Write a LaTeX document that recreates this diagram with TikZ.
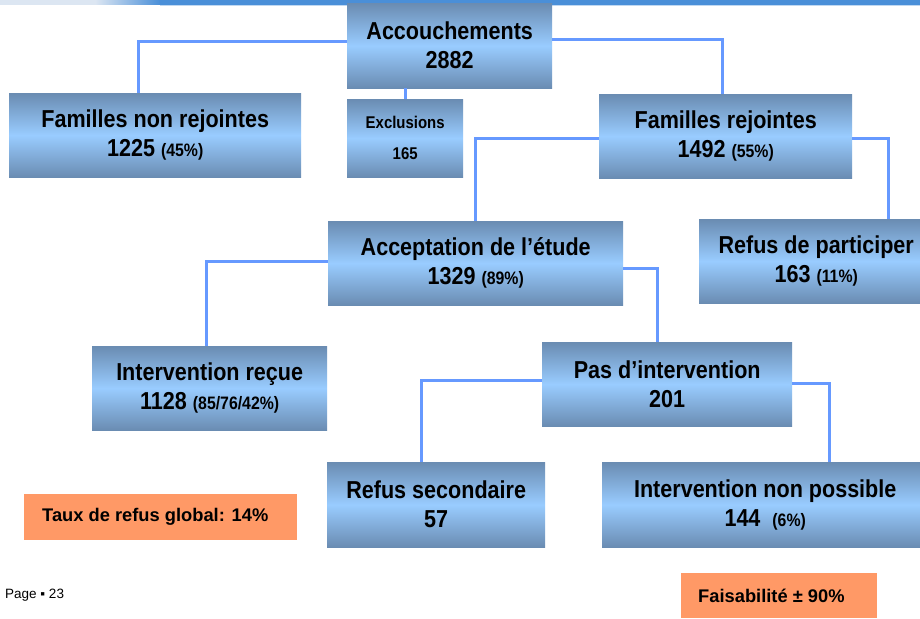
\documentclass[tikz,border=0pt]{standalone}
\usepackage{fontspec}
\setmainfont{Liberation Sans}
\newfontfamily\condfont[FakeStretch=0.88]{Liberation Sans}
\definecolor{boxedge}{RGB}{106,140,178}
\definecolor{boxmid}{RGB}{153,204,255}
\definecolor{connblue}{RGB}{102,153,255}
\definecolor{orangebox}{RGB}{255,153,102}
\definecolor{barblue}{RGB}{74,143,216}
\definecolor{barpale}{RGB}{220,230,242}
\newcommand\smallpct[1]{{\fontsize{18}{29}\selectfont #1}}
\tikzset{
  flowbox/.style={rectangle, draw=none, inner sep=0pt, anchor=north west,
    top color=boxedge, bottom color=boxedge, middle color=boxmid,
    align=center, text=black,
    font=\condfont\bfseries\fontsize{24.5}{29}\selectfont},
  conn/.style={draw=connblue, line width=3pt},
  notebox/.style={rectangle, fill=orangebox, draw=none, anchor=north west, inner sep=0pt},
  notetext/.style={anchor=west, inner sep=0pt, font=\bfseries\fontsize{18.3}{20}\selectfont}
}
\begin{document}
\begin{tikzpicture}[x=1pt,y=-1pt]
\useasboundingbox (0,0) rectangle (920,618);
\clip (0,0) rectangle (920,618);
\fill[white] (0,0) rectangle (920,618);
% top bar
\fill[barblue] (0,0) rectangle (920,5);
\fill[barpale] (0,0) rectangle (95,5);
\shade[left color=barpale, right color=barblue] (95,0) rectangle (160,5);
\fill[barblue!35] (160,5) rectangle (920,6.5);

% boxes
\node[flowbox, minimum width=205pt, minimum height=85pt] (acc) at (347,3) {Accouchements\\2882};
\node[flowbox, minimum width=292pt, minimum height=84pt] (fnr) at (9,93) {Familles non rejointes\\1225 \smallpct{(45\%)}};
\node[flowbox, minimum width=116pt, minimum height=78pt, font=\condfont\bfseries\fontsize{17}{31}\selectfont] (excl) at (347,99) {Exclusions\\165};
\node[flowbox, minimum width=253pt, minimum height=84pt] (fr) at (599,94) {Familles rejointes\\1492 \smallpct{(55\%)}};
\node[flowbox, minimum width=295pt, minimum height=84pt] (acc2) at (328,221) {Acceptation de l’étude\\1329 \smallpct{(89\%)}};
\node[flowbox, minimum width=234pt, minimum height=84pt] (refus) at (699,219) {Refus de participer\\163 \smallpct{(11\%)}};
\node[flowbox, minimum width=235pt, minimum height=84pt] (ir) at (92,346) {Intervention reçue\\1128 \smallpct{(85/76/42\%)}};
\node[flowbox, minimum width=250pt, minimum height=84pt] (pas) at (542,342) {Pas d’intervention\\201};
\node[flowbox, minimum width=218pt, minimum height=85pt] (rs) at (327,462) {Refus secondaire\\57};
\node[flowbox, minimum width=326pt, minimum height=85pt] (inp) at (602,462) {Intervention non possible\\144\ \ \smallpct{(6\%)}};

% connectors
\draw[conn] (acc.west |- 0,42) -| (fnr.north -| 138,0);
\draw[conn] (acc.east |- 0,40) -| (fr.north -| 722,0);
\draw[conn] (excl.north |- acc.south) -- (excl.north);
\draw[conn] (fr.west |- 0,138) -| (acc2.north -| 475,0);
\draw[conn] (fr.east |- 0,138) -| (refus.north -| 888,0);
\draw[conn] (acc2.west |- 0,261) -| (ir.north -| 206,0);
\draw[conn] (acc2.east |- 0,268) -| (pas.north -| 657,0);
\draw[conn] (pas.west |- 0,380) -| (rs.north -| 421,0);
\draw[conn] (pas.east |- 0,383) -| (inp.north -| 829,0);

% notes
\node[notebox, minimum width=273pt, minimum height=46pt] (taux) at (24,494) {};
\node[notetext] (tauxt) at (42,517) {Taux de refus global: 14\%};
\node[notebox, minimum width=196pt, minimum height=45pt] (fais) at (681,573) {};
\node[notetext] (faist) at (698,596) {Faisabilité ± 90\%};

\node[anchor=base west, inner sep=0pt, font=\fontsize{13.5}{15}\selectfont] (page) at (5,598) {Page ▪ 23};
\end{tikzpicture}
\end{document}
